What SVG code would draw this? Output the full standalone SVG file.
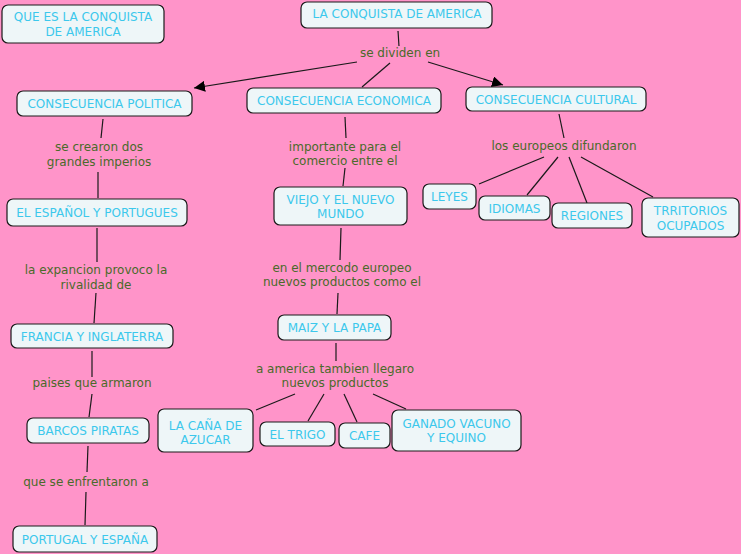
<svg xmlns="http://www.w3.org/2000/svg" width="741" height="554" viewBox="0 0 741 554">
<style>
.n rect{fill:#EEF6F8;stroke:#1a1a1a;stroke-width:1.2}
.n text{fill:#3CC8EC;font-family:"DejaVu Sans",Verdana,sans-serif;font-size:12px;text-anchor:middle}
.l text{fill:#4A6A2A;font-family:"DejaVu Sans",Verdana,sans-serif;font-size:12px;text-anchor:middle}
#connectors line{stroke:#1a1a1a;stroke-width:1.2}
</style>
<defs>
<marker id="ah" viewBox="0 0 10 10" refX="10" refY="5" markerWidth="11" markerHeight="11" markerUnits="userSpaceOnUse" orient="auto">
<path d="M0,0 L10,5 L0,10 z" fill="#000"/>
</marker>
</defs>
<rect width="741" height="554" fill="#FF94C9"/>
<g id="connectors">
<line x1="398" y1="31" x2="399" y2="46"/>
<line x1="357" y1="62" x2="194" y2="88" marker-end="url(#ah)"/>
<line x1="390" y1="63" x2="362" y2="87"/>
<line x1="428" y1="62" x2="503" y2="85" marker-end="url(#ah)"/>
<line x1="103" y1="119" x2="101" y2="138"/>
<line x1="98" y1="172" x2="98" y2="198"/>
<line x1="97" y1="228" x2="97" y2="262"/>
<line x1="96" y1="293" x2="94" y2="323"/>
<line x1="92" y1="351" x2="92" y2="377"/>
<line x1="92" y1="394" x2="89" y2="417"/>
<line x1="88" y1="446" x2="87" y2="472"/>
<line x1="86" y1="492" x2="85" y2="525"/>
<line x1="345" y1="117" x2="346" y2="138"/>
<line x1="345" y1="168" x2="343" y2="186"/>
<line x1="341" y1="228" x2="340" y2="260"/>
<line x1="338" y1="293" x2="337" y2="314"/>
<line x1="336" y1="343" x2="336" y2="361"/>
<line x1="295" y1="394" x2="256" y2="410"/>
<line x1="324" y1="394" x2="308" y2="421"/>
<line x1="344" y1="394" x2="357" y2="422"/>
<line x1="373" y1="394" x2="406" y2="409"/>
<line x1="559" y1="114" x2="564" y2="138"/>
<line x1="544" y1="157" x2="479" y2="184"/>
<line x1="558" y1="157" x2="527" y2="195"/>
<line x1="569" y1="157" x2="587" y2="203"/>
<line x1="581" y1="157" x2="653" y2="197"/>
</g>
<g class="l">
<text x="400" y="57">se dividen en</text>
<text x="99" y="151">se crearon dos</text>
<text x="99" y="166">grandes imperios</text>
<text x="96" y="274">la expancion provoco la</text>
<text x="96" y="289">rivalidad de</text>
<text x="92" y="387">paises que armaron</text>
<text x="86" y="486">que se enfrentaron a</text>
<text x="345" y="151">importante para el</text>
<text x="345" y="165">comercio entre el</text>
<text x="342" y="272">en el mercodo europeo</text>
<text x="342" y="286">nuevos productos como el</text>
<text x="335" y="373">a america tambien llegaro</text>
<text x="335" y="387">nuevos productos</text>
<text x="564" y="150">los europeos difundaron</text>
</g>
<g id="n-que" class="n"><rect x="2" y="5" width="162" height="38" rx="6"/><text x="83" y="20.5">QUE ES LA CONQUISTA</text><text x="83" y="35.5">DE AMERICA</text></g>
<g id="n-conquista" class="n"><rect x="301" y="2" width="191" height="26" rx="6"/><text x="397" y="18">LA CONQUISTA DE AMERICA</text></g>
<g id="n-politica" class="n"><rect x="17" y="91" width="175" height="25" rx="6"/><text x="104.5" y="108">CONSECUENCIA POLITICA</text></g>
<g id="n-economica" class="n"><rect x="247" y="88" width="194" height="25" rx="6"/><text x="344" y="104.5">CONSECUENCIA ECONOMICA</text></g>
<g id="n-cultural" class="n"><rect x="466" y="87" width="180" height="24" rx="6"/><text x="556" y="103.5">CONSECUENCIA CULTURAL</text></g>
<g id="n-espanol" class="n"><rect x="7" y="199" width="180" height="27" rx="6"/><text x="97" y="217">EL ESPAÑOL Y PORTUGUES</text></g>
<g id="n-francia" class="n"><rect x="11" y="324" width="162" height="24" rx="6"/><text x="92" y="340.5">FRANCIA Y INGLATERRA</text></g>
<g id="n-barcos" class="n"><rect x="27" y="418" width="122" height="25" rx="6"/><text x="88" y="435">BARCOS PIRATAS</text></g>
<g id="n-portugal" class="n"><rect x="13" y="526" width="144" height="26" rx="6"/><text x="85" y="543.5">PORTUGAL Y ESPAÑA</text></g>
<g id="n-viejo" class="n"><rect x="274" y="187" width="133" height="38" rx="6"/><text x="340.5" y="203.5">VIEJO Y EL NUEVO</text><text x="340.5" y="217.5">MUNDO</text></g>
<g id="n-maiz" class="n"><rect x="278" y="315" width="113" height="25" rx="6"/><text x="334.5" y="332">MAIZ Y LA PAPA</text></g>
<g id="n-cana" class="n"><rect x="158" y="409" width="95" height="43" rx="6"/><text x="205.5" y="429.5">LA CAÑA DE</text><text x="205.5" y="443.5">AZUCAR</text></g>
<g id="n-trigo" class="n"><rect x="260" y="422" width="75" height="24" rx="6"/><text x="297.5" y="438.5">EL TRIGO</text></g>
<g id="n-cafe" class="n"><rect x="339" y="423" width="51" height="25" rx="6"/><text x="364.5" y="440">CAFE</text></g>
<g id="n-ganado" class="n"><rect x="392" y="410" width="129" height="41" rx="6"/><text x="456.5" y="427.5">GANADO VACUNO</text><text x="456.5" y="441.5">Y EQUINO</text></g>
<g id="n-leyes" class="n"><rect x="423" y="184" width="53" height="25" rx="6"/><text x="449.5" y="201">LEYES</text></g>
<g id="n-idiomas" class="n"><rect x="479" y="196" width="71" height="24" rx="6"/><text x="514.5" y="212.5">IDIOMAS</text></g>
<g id="n-regiones" class="n"><rect x="552" y="203" width="80" height="25" rx="6"/><text x="592" y="220">REGIONES</text></g>
<g id="n-territorios" class="n"><rect x="642" y="198" width="97" height="39" rx="6"/><text x="690.5" y="214.5">TRRITORIOS</text><text x="690.5" y="229.5">OCUPADOS</text></g>
</svg>
